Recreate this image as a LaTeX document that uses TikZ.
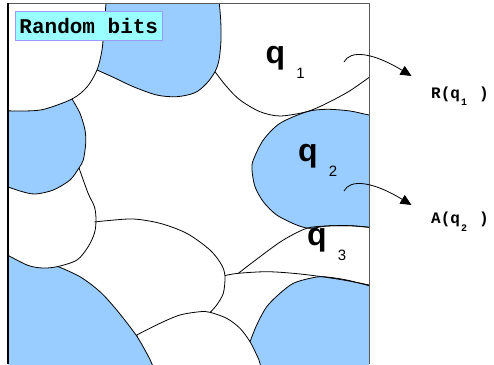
\documentclass[tikz,border=0pt]{standalone}
\usepackage{fontspec}
\usepackage{tikz}
\usetikzlibrary{arrows.meta,positioning,calc}

\newfontfamily\labsans{Liberation Sans}
\newfontfamily\labmono{Liberation Mono}
\definecolor{cellblue}{RGB}{153,204,255}
\definecolor{bitscyan}{RGB}{153,255,255}
\definecolor{bitsedge}{RGB}{153,153,255}
\newcommand{\qsub}[1]{q\hspace{11pt}\raisebox{-15pt}{\fontsize{15}{15}\selectfont\mdseries #1}}
\newcommand{\qmono}[1]{q\hspace{1pt}\raisebox{-7.5pt}{\fontsize{10}{10}\selectfont #1}\hspace{12pt}}

\begin{document}
\begin{tikzpicture}[x=1pt, y=-1pt,
    cell/.style={fill=cellblue, draw=black, line width=0.8pt},
    wcell/.style={fill=white, draw=black, line width=0.8pt},
    edge/.style={draw=black, line width=0.8pt},
    frame/.style={draw=black!65, line width=1pt},
    bitsbox/.style={fill=bitscyan, draw=bitsedge, line width=1pt, minimum width=147pt, minimum height=29pt, inner sep=0pt, font=\labmono\bfseries\fontsize{21}{21}\selectfont},
    qlabel/.style={anchor=base west, inner sep=0pt, font=\labsans\bfseries\fontsize{32}{32}\selectfont},
    outlabel/.style={anchor=base west, inner sep=0pt, font=\labmono\bfseries\fontsize{16}{16}\selectfont},
    outarrow/.style={-{Triangle[length=11pt,width=10pt]}, line width=0.8pt}]
  \useasboundingbox (0,0) rectangle (494,364);

  \begin{scope}
    \clip (8,3.3) rectangle (369,372);
    % cells, back to front
    \filldraw[cell] plot[smooth] coordinates {(250,341.7) (256.7,325) (266.7,306.7) (280,293.3) (293.3,283.3) (310,278.3) (323.3,276.7) (346.7,280) (372,286.5)} -- (380,286.5) -- (380,380) -- (248,380) -- cycle;
    \filldraw[wcell] plot[smooth] coordinates {(136.7,335) (160,323.3) (180,315) (200,311.7) (210,312.3) (226.7,318.3) (240,328.3) (250,341.7) (256.7,355) (260,363.3) (262,380)} -- (150,380) -- cycle;
    \filldraw[cell] plot[smooth] coordinates {(58,266.5) (80,276.7) (100,291.7) (116.7,310) (136,335) (146.7,353.3) (152,364) (157,380)} -- (0,380) -- (0,250) -- cycle;
    \filldraw[wcell] plot[smooth] coordinates {(79,168) (88,193) (94.5,207) (96,220) (94.5,233) (88,247) (77,260) (58,266.5) (43,268) (27,265) (0,251)} -- (0,180) -- cycle;
    \filldraw[cell] plot[smooth] coordinates {(72,99) (80,113.3) (85,130) (85.7,143.3) (83.3,160) (78.7,168.3) (70,180) (53.3,190) (35,194) (20,191) (0,184)} -- (0,99) -- cycle;
    \filldraw[cell] plot[smooth] coordinates {(219,0) (220.7,20) (221,40) (219,60) (215,71.7) (206.7,83.3) (195,92.7) (176.7,96.7) (156.7,95) (133.3,86.7) (113.3,77.3) (97,70)} -- (80,60) -- (80,0) -- cycle;
    \filldraw[wcell] plot[smooth] coordinates {(0,110.5) (20,111) (43,109.5) (72,99) (87,87) (97,70) (102,50) (104,27) (106.3,0)} -- (0,0) -- cycle;
    \filldraw[cell] plot[smooth] coordinates {(380,116) (369,115) (350,111) (327,109.3) (307,111.7) (280,123.3) (263.3,140) (253.3,160) (252,170) (255,186.7) (263.3,201.7) (276.7,215) (296.7,225) (310,228.3) (327,226) (350,225.7) (369,227.3) (380,228)} -- cycle;
    % open borders
    \draw[edge] plot[smooth] coordinates {(215,71.7) (226.7,86.7) (240,100) (260,111.7) (280,116) (306.7,111.7) (326.7,103.3) (350,90.7) (372,75.3)};
    \draw[edge] plot[smooth] coordinates {(94.3,222) (106.7,220.7) (133.3,219) (160,223.3) (186.7,233.3) (210,250) (221.7,265) (225,276.7) (223.3,293.3) (216.7,305) (210,312.5)};
    \draw[edge] plot[smooth] coordinates {(225,275.5) (238.3,273.3) (266.7,271.7) (293.3,273.3) (316.7,276) (343.3,280) (372,285.5)};
    \draw[edge] plot[smooth] coordinates {(238.3,273.3) (260,256.7) (283.3,240) (306.7,228.3) (326.7,226) (350,225.7) (372,227.5)};
  \end{scope}

  \draw[frame] (369,364) -- (369,3.3) -- (8,3.3);
  \draw[frame, black, line width=1.4pt] (8,3.3) -- (8,364);

  \node[bitsbox] (bits) at (88.8,26.2) {Random bits};

  \node[qlabel] (q1) at (265.5,63.5) {\qsub{1}};
  \node[qlabel] (q2) at (298,161.5) {\qsub{2}};
  \node[qlabel] (q3) at (307,245.5) {\qsub{3}};

  \node[outlabel] (Rq1) at (431,98.3) {R(\qmono{1})};
  \node[outlabel] (Aq2) at (431,223.7) {A(\qmono{2})};

  \coordinate (q1out) at (344,62);
  \coordinate (q2out) at (344,191);
  \coordinate (r1tip) at (411.5,76);
  \coordinate (a2tip) at (411.5,205);
  \draw[outarrow] (q1out) .. controls (350,50) and (372,52) .. (r1tip);
  \draw[outarrow] (q2out) .. controls (350,179) and (372,181) .. (a2tip);
\end{tikzpicture}
\end{document}
